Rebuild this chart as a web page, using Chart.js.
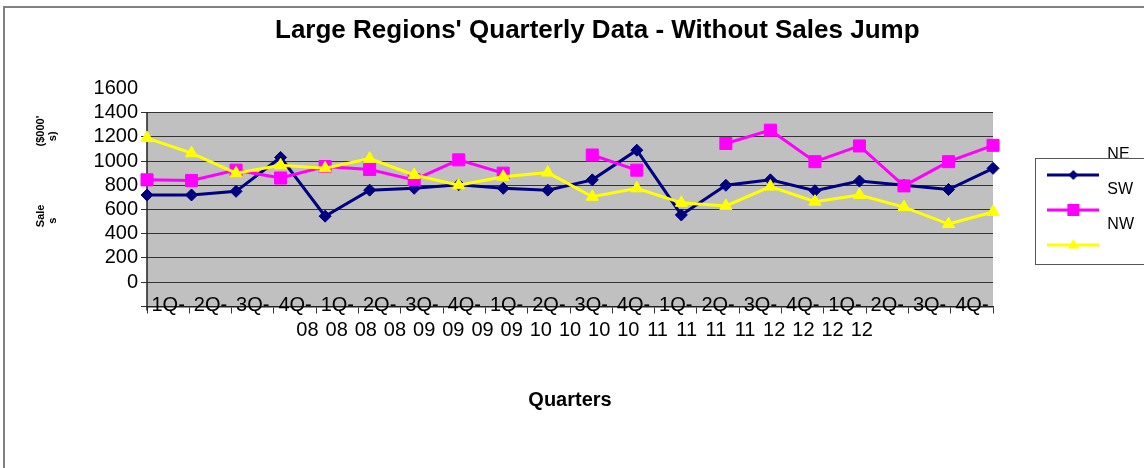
<!DOCTYPE html>
<html><head><meta charset="utf-8">
<script src="https://cdn.jsdelivr.net/npm/chart.js@4.4.1/dist/chart.umd.min.js"></script>
<style>html,body{margin:0;padding:0;background:#fff;}#wrap{width:1144px;height:468px;position:relative;}</style>
</head><body><div id="wrap"><canvas id="c"></canvas></div>
<script>
// ---- data ----
const quarters = ['1Q-08','2Q-08','3Q-08','4Q-08','1Q-09','2Q-09','3Q-09','4Q-09','1Q-10','2Q-10',
                  '3Q-10','4Q-10','1Q-11','2Q-11','3Q-11','4Q-11','1Q-12','2Q-12','3Q-12','4Q-12'];
const seriesNames = ['NE', 'SW', 'NW'];
const neSales = [720, 720, 750, 1030, 545, 760, 775, 805, 775, 760, 845, 1090, 555, 800, 845, 755, 835, 800, 765, 940];
const swSales = [845, 840, 925, 860, 955, 930, 845, 1010, 900, null, 1050, 925, null, 1145, 1255, 995, 1125, 795, 995, 1130];
const nwSales = [1190, 1065, 900, 965, 940, 1020, 885, 800, 870, 905, 705, 775, 655, 630, 790, 665, 720, 620, 480, 580];
const yTickStep = 200, yAxisMin = -200, yAxisMax = 1600, plotTopValue = 1400;
const quarterRow = quarters.map(q => q.split('-')[0] + '-');
const yearRow = quarters.map(q => q.split('-')[1]);
const yearRowLead = 5, yearRowTail = 4;
const yearRowLabels = Array(yearRowLead).fill('').concat(yearRow, Array(yearRowTail).fill(''));

const colors = ['#000080', '#ff00ff', '#ffff00'];

Chart.defaults.font.family = '"Liberation Sans", Arial, sans-serif';
Chart.defaults.color = '#000';

function makeIcon(color, shape) {
  const cv = document.createElement('canvas');
  cv.width = 52; cv.height = 56;
  const g = cv.getContext('2d');
  const cy = 48, cx = 26;
  g.strokeStyle = color; g.lineWidth = 3;
  g.beginPath(); g.moveTo(0, cy); g.lineTo(52, cy); g.stroke();
  g.fillStyle = color;
  g.beginPath();
  if (shape === 'diamond') {
    g.moveTo(cx, cy - 5); g.lineTo(cx + 5, cy); g.lineTo(cx, cy + 5); g.lineTo(cx - 5, cy);
  } else if (shape === 'square') {
    g.rect(cx - 6, cy - 6, 12, 12);
  } else {
    g.moveTo(cx, cy - 6); g.lineTo(cx + 5.5, cy + 3.5); g.lineTo(cx - 5.5, cy + 3.5);
  }
  g.closePath(); g.fill();
  return cv;
}
const legendIcons = [makeIcon(colors[0], 'diamond'), makeIcon(colors[1], 'square'), makeIcon(colors[2], 'triangle')];

const decor = {
  id: 'decor',
  beforeDraw(chart) {
    const {ctx, chartArea: ca} = chart;
    const y = chart.scales.y;
    ctx.save();
    ctx.fillStyle = '#fff'; ctx.fillRect(0, 0, chart.width, chart.height);
    ctx.strokeStyle = '#808080'; ctx.lineWidth = 2;
    ctx.beginPath(); ctx.moveTo(4, chart.height); ctx.lineTo(4, 7); ctx.lineTo(chart.width, 7); ctx.stroke();
    const top = y.getPixelForValue(plotTopValue);
    ctx.fillStyle = '#c0c0c0';
    ctx.fillRect(ca.left, top, ca.right - ca.left, ca.bottom - top);
    ctx.restore();
  },
  beforeDatasetsDraw(chart) {
    const {ctx, chartArea: ca} = chart;
    const y = chart.scales.y;
    ctx.save(); ctx.strokeStyle = '#222'; ctx.lineWidth = 1.5;
    ctx.beginPath(); ctx.moveTo(ca.left, y.getPixelForValue(plotTopValue)); ctx.lineTo(ca.left, ca.bottom + 4); ctx.stroke();
    ctx.restore();
  },
  afterDraw(chart) {
    const {ctx} = chart;
    const lg = chart.legend; const hb = lg.legendHitBoxes;
    if (!hb || !hb.length) return;
    ctx.save(); ctx.strokeStyle = '#555'; ctx.lineWidth = 1;
    const l = Math.round(lg.left + 7) + 0.5, t = Math.round(hb[0].top + 11) + 0.5, b = Math.round(hb[hb.length - 1].top + 47) + 0.5;
    ctx.strokeRect(l, t, chart.width + 10, b - t);
    ctx.restore();
  }
};

const ds = (label, data, i, style, radius, order) => ({
  label, data, xAxisID: 'x', yAxisID: 'y', order,
  borderColor: colors[i], backgroundColor: colors[i], borderWidth: 3,
  pointStyle: style, pointRadius: radius, pointHoverRadius: radius,
  pointBackgroundColor: colors[i], pointBorderColor: colors[i], pointBorderWidth: 1,
  tension: 0, spanGaps: false
});

new Chart(document.getElementById('c'), {
  type: 'line',
  data: {
    labels: quarters,
    datasets: [
      ds(seriesNames[0], neSales, 0, 'rectRot', 6, 3),
      ds(seriesNames[1], swSales, 1, 'rect', 8.5, 2),
      ds(seriesNames[2], nwSales, 2, 'triangle', 7, 1)
    ]
  },
  options: {
    responsive: true, maintainAspectRatio: false, animation: false,
    layout: { padding: 0 },
    plugins: {
      title: {
        display: true,
        text: '       Large Regions\' Quarterly Data - Without Sales Jump',
        font: { size: 26, weight: 'bold' }, color: '#000',
        padding: { top: 15.5, bottom: 41.7 }
      },
      legend: {
        position: 'right', align: 'start',
        title: { display: true, text: '', font: { size: 12 }, padding: { top: 113.6, bottom: 0 } },
        labels: {
          usePointStyle: true, pointStyleWidth: 52, padding: 19,
          font: { size: 16 }, color: '#000',
          sort: (a, b) => a.datasetIndex - b.datasetIndex,
          generateLabels(chart) {
            const items = Chart.defaults.plugins.legend.labels.generateLabels(chart);
            items.forEach(it => { it.pointStyle = legendIcons[it.datasetIndex]; });
            return items;
          }
        }
      },
      tooltip: { enabled: false }
    },
    scales: {
      x: { type: 'category', display: false, offset: false },
      xLab: {
        type: 'category', position: { y: yAxisMin }, labels: quarterRow, offset: true,
        grid: { display: true, drawOnChartArea: false, offset: true, tickLength: 6, color: '#333' },
        border: { display: true, color: '#222', width: 1.5 },
        ticks: { autoSkip: false, maxRotation: 0, minRotation: 0, padding: -19, font: { size: 20 }, color: '#000' }
      },
      xYear: {
        type: 'category', position: 'bottom', labels: yearRowLabels, offset: true, weight: 2,
        grid: { display: false, drawTicks: false, tickLength: 0 },
        border: { display: false },
        ticks: { autoSkip: false, maxRotation: 0, minRotation: 0, padding: 12, font: { size: 20 }, color: '#000' },
        title: { display: true, text: 'Quarters', font: { size: 20, weight: 'bold' }, color: '#000', padding: { top: 33.6, bottom: 56 } }
      },
      y: {
        type: 'linear', position: 'left', min: yAxisMin, max: yAxisMax,
        afterFit(s) { s.width = 147; },
        ticks: { stepSize: yTickStep, autoSkip: false, padding: 3, font: { size: 20 }, color: '#000',
                 callback: v => (v < 0 ? '' : v) },
        grid: { color: c => (c.tick && c.tick.value === yAxisMax ? 'rgba(0,0,0,0)' : '#333'), lineWidth: 1, tickLength: 6 },
        border: { display: false },
        title: {
          display: true,
          text: [' '.repeat(17) + 'Sale' + ' '.repeat(19) + '($000\'', ' '.repeat(13) + 's' + ' '.repeat(25) + 's)'],
          font: { size: 11, weight: 'bold', lineHeight: 1.1 }, color: '#000',
          padding: { top: 35, bottom: 0 }
        }
      },
      yPad: {
        type: 'linear', position: 'right', display: true,
        grid: { display: false, drawTicks: false }, border: { display: false },
        ticks: { display: false },
        afterFit(s) { s.width = 35.3; }
      }
    }
  },
  plugins: [decor]
});
</script>
</body></html>
